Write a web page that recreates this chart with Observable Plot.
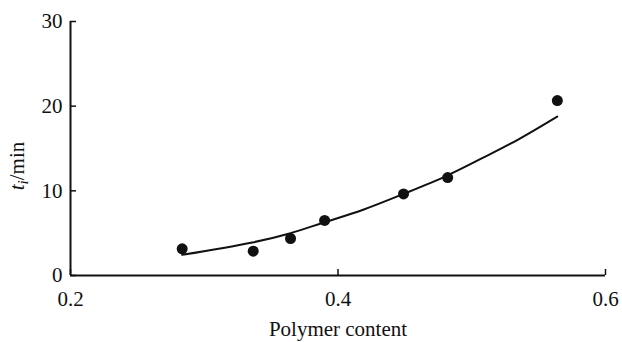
<!DOCTYPE html>
<html><head><meta charset="utf-8">
<script src="https://cdn.jsdelivr.net/npm/d3@7"></script>
<script src="https://cdn.jsdelivr.net/npm/@observablehq/plot@0.6"></script>
<style>
body{margin:0;background:#fff}
</style>
</head><body><div id="chart"></div>
<script>
const pointX = [0.2835, 0.3366, 0.3645, 0.390, 0.449, 0.482, 0.564];
const pointY = [3.15, 2.87, 4.37, 6.5, 9.64, 11.57, 20.66];
const curveX = [0.2835, 0.3359, 0.3645, 0.3882, 0.4193, 0.4492, 0.4816, 0.5090, 0.5340, 0.5639];
const curveY = [2.44, 3.9, 5.0, 6.2, 7.8, 9.65, 11.8, 13.95, 16.0, 18.77];
const xTicks = [0.2, 0.4, 0.6];
const yTicks = [0, 10, 20, 30];
const xLabel = "Polymer content";

const points = pointX.map((x, i) => ({x, y: pointY[i]}));
const curve = curveX.map((x, i) => ({x, y: curveY[i]}));
const serif = "'Liberation Serif', 'Times New Roman', serif";

const chart = Plot.plot({
  width: 622, height: 342,
  marginLeft: 70, marginRight: 17, marginTop: 21, marginBottom: 67,
  style: {color: "#111", background: "#fff", fontFamily: serif},
  x: {domain: [0.2, 0.6]},
  y: {domain: [0, 30]},
  marks: [
    Plot.ruleY([0], {stroke: "#111", strokeWidth: 2}),
    Plot.ruleX([0.2], {stroke: "#111", strokeWidth: 2}),
    Plot.axisX(xTicks, {tickSize: -6, strokeWidth: 1.5, tickFormat: () => "", label: null}),
    Plot.axisX(xTicks, {tickSize: 0, tickPadding: 16, fontSize: 21, tickFormat: d => d.toFixed(1), label: null}),
    Plot.axisY(yTicks, {tickSize: -6, strokeWidth: 1.5, tickFormat: () => "", label: null}),
    Plot.axisY(yTicks, {tickSize: 0, tickPadding: 8, fontSize: 21, tickFormat: d => String(d), label: null}),
    Plot.line(curve, {x: "x", y: "y", stroke: "#111", strokeWidth: 2, curve: "catmull-rom"}),
    Plot.dot(points, {x: "x", y: "y", r: 5.5, fill: "#111", stroke: "none"}),
    Plot.text([xLabel], {frameAnchor: "bottom", dy: 60, lineAnchor: "bottom", fontSize: 21, fill: "#111"})
  ]
});
document.getElementById("chart").appendChild(chart);

const svg = d3.select(chart);
const t = svg.append("text")
  .attr("transform", "translate(24,166) rotate(-90)")
  .attr("text-anchor", "middle")
  .attr("font-size", 21)
  .attr("fill", "#111");
t.append("tspan").attr("font-style", "italic").text("t");
t.append("tspan").attr("font-style", "italic").attr("font-size", 15).attr("dy", 4).text("i");
t.append("tspan").attr("dy", -4).text("/min");
svg.selectAll("text, g").style("font-family", serif);
</script>
</body></html>
